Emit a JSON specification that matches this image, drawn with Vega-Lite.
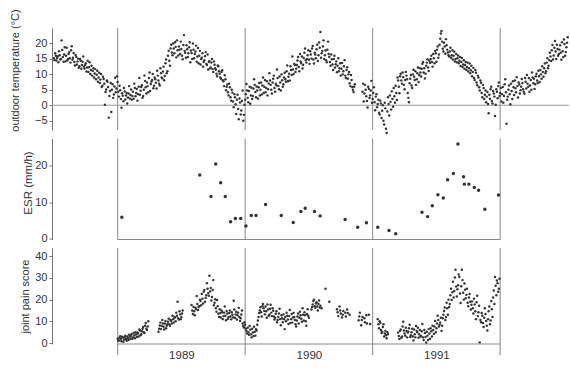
{
  "$schema": "https://vega.github.io/schema/vega-lite/v6.json",
  "background": "white",
  "padding": {"left": 8, "top": 8, "right": 0, "bottom": 0},
  "spacing": 2.5,
  "config": {
    "view": {"stroke": null},
    "axis": {"labelFont": "Liberation Sans", "labelFontSize": 11, "labelColor": "#333", "titleFont": "Liberation Sans", "titleFontSize": 11, "titleFontWeight": "normal", "titleColor": "#333", "domainColor": "#777", "tickColor": "#777", "grid": false, "tickSize": 3, "labelPadding": 2}
  },
  "datasets": {
    "yearlines": [{"t": 1989}, {"t": 1990}, {"t": 1991}, {"t": 1992}],
    "zeroline": [{"v": 0}],
    "esrbase": [{"t": 1989, "t2": 1992, "v": -0.27}],
    "painbase": [{"t": 1989, "t2": 1992, "v": -0.46}],
    "painlines": [{"t": 1989, "v": -5.6, "v2": 43.8}, {"t": 1990, "v": -5.6, "v2": 43.8}, {"t": 1991, "v": -5.6, "v2": 43.8}, {"t": 1992, "v": -5.6, "v2": 43.8}],
    "temp": [
      {"t":1988.50,"v":15.2},{"t":1988.51,"v":16.8},{"t":1988.52,"v":14.5},{"t":1988.53,"v":15.9},{"t":1988.54,"v":17.5},{"t":1988.55,"v":14.8},{"t":1988.56,"v":21.0},{"t":1988.57,"v":15.6},{"t":1988.58,"v":16.4},{"t":1988.59,"v":14.2},
      {"t":1988.60,"v":18.6},{"t":1988.61,"v":15.0},{"t":1988.62,"v":17.2},{"t":1988.63,"v":13.8},{"t":1988.64,"v":19.1},{"t":1988.65,"v":15.4},{"t":1988.66,"v":14.0},{"t":1988.67,"v":16.3},{"t":1988.68,"v":13.2},{"t":1988.69,"v":15.1},
      {"t":1988.70,"v":12.6},{"t":1988.71,"v":14.4},{"t":1988.72,"v":13.0},{"t":1988.73,"v":15.8},{"t":1988.74,"v":11.9},{"t":1988.75,"v":13.6},{"t":1988.76,"v":12.2},{"t":1988.77,"v":10.8},{"t":1988.78,"v":13.9},{"t":1988.79,"v":11.4},
      {"t":1988.80,"v":9.6},{"t":1988.81,"v":12.0},{"t":1988.82,"v":10.3},{"t":1988.83,"v":8.4},{"t":1988.84,"v":11.2},{"t":1988.85,"v":9.0},{"t":1988.86,"v":7.2},{"t":1988.87,"v":10.1},{"t":1988.88,"v":6.3},{"t":1988.89,"v":8.5},
      {"t":1988.90,"v":0.2},{"t":1988.91,"v":5.1},{"t":1988.92,"v":7.6},{"t":1988.93,"v":-4.0},{"t":1988.94,"v":4.6},{"t":1988.95,"v":-2.2},{"t":1988.96,"v":6.8},{"t":1988.97,"v":3.5},{"t":1988.98,"v":8.9},{"t":1988.99,"v":5.4},
      {"t":1989.00,"v":7.5},{"t":1989.01,"v":2.8},{"t":1989.02,"v":4.9},{"t":1989.03,"v":-0.8},{"t":1989.04,"v":3.1},{"t":1989.05,"v":5.6},{"t":1989.06,"v":1.9},{"t":1989.07,"v":4.0},{"t":1989.08,"v":2.5},{"t":1989.09,"v":6.2},
      {"t":1989.10,"v":3.3},{"t":1989.11,"v":1.8},{"t":1989.12,"v":4.4},{"t":1989.13,"v":7.0},{"t":1989.14,"v":2.9},{"t":1989.15,"v":5.3},{"t":1989.16,"v":3.6},{"t":1989.17,"v":8.8},{"t":1989.18,"v":4.7},{"t":1989.19,"v":6.5},
      {"t":1989.20,"v":3.0},{"t":1989.21,"v":9.6},{"t":1989.22,"v":5.8},{"t":1989.23,"v":7.4},{"t":1989.24,"v":4.2},{"t":1989.25,"v":10.6},{"t":1989.26,"v":6.9},{"t":1989.27,"v":8.2},{"t":1989.28,"v":5.5},{"t":1989.29,"v":9.0},
      {"t":1989.30,"v":7.3},{"t":1989.31,"v":11.2},{"t":1989.32,"v":8.0},{"t":1989.33,"v":6.4},{"t":1989.34,"v":10.4},{"t":1989.35,"v":8.7},{"t":1989.36,"v":12.5},{"t":1989.37,"v":9.5},{"t":1989.38,"v":14.8},{"t":1989.39,"v":11.0},
      {"t":1989.40,"v":17.6},{"t":1989.41,"v":12.8},{"t":1989.42,"v":19.6},{"t":1989.43,"v":16.2},{"t":1989.44,"v":18.4},{"t":1989.45,"v":20.4},{"t":1989.46,"v":15.5},{"t":1989.47,"v":17.8},{"t":1989.48,"v":19.0},{"t":1989.49,"v":16.6},
      {"t":1989.50,"v":18.2},{"t":1989.51,"v":14.9},{"t":1989.52,"v":22.7},{"t":1989.53,"v":17.0},{"t":1989.54,"v":19.4},{"t":1989.55,"v":15.6},{"t":1989.56,"v":18.8},{"t":1989.57,"v":13.9},{"t":1989.58,"v":16.9},{"t":1989.59,"v":20.0},
      {"t":1989.60,"v":15.2},{"t":1989.61,"v":17.4},{"t":1989.62,"v":14.1},{"t":1989.63,"v":18.5},{"t":1989.64,"v":16.0},{"t":1989.65,"v":13.2},{"t":1989.66,"v":15.4},{"t":1989.67,"v":12.5},{"t":1989.68,"v":14.6},{"t":1989.69,"v":17.2},
      {"t":1989.70,"v":13.0},{"t":1989.71,"v":11.6},{"t":1989.72,"v":14.3},{"t":1989.73,"v":12.2},{"t":1989.74,"v":15.0},{"t":1989.75,"v":10.8},{"t":1989.76,"v":13.1},{"t":1989.77,"v":11.5},{"t":1989.78,"v":9.4},{"t":1989.79,"v":12.6},
      {"t":1989.80,"v":10.2},{"t":1989.81,"v":8.6},{"t":1989.82,"v":11.3},{"t":1989.83,"v":7.8},{"t":1989.84,"v":9.7},{"t":1989.85,"v":4.9},{"t":1989.86,"v":6.7},{"t":1989.87,"v":3.2},{"t":1989.88,"v":5.8},{"t":1989.89,"v":1.5},
      {"t":1989.90,"v":4.1},{"t":1989.91,"v":-0.6},{"t":1989.92,"v":2.6},{"t":1989.93,"v":-2.8},{"t":1989.94,"v":3.4},{"t":1989.95,"v":-4.5},{"t":1989.96,"v":0.9},{"t":1989.97,"v":-1.7},{"t":1989.98,"v":4.8},{"t":1989.99,"v":-3.1},
      {"t":1990.00,"v":1.8},{"t":1990.01,"v":6.9},{"t":1990.02,"v":2.4},{"t":1990.03,"v":4.6},{"t":1990.04,"v":0.5},{"t":1990.05,"v":5.7},{"t":1990.06,"v":3.0},{"t":1990.07,"v":8.4},{"t":1990.08,"v":4.3},{"t":1990.09,"v":6.1},
      {"t":1990.10,"v":2.2},{"t":1990.11,"v":7.2},{"t":1990.12,"v":5.0},{"t":1990.13,"v":3.5},{"t":1990.14,"v":9.0},{"t":1990.15,"v":6.0},{"t":1990.16,"v":4.2},{"t":1990.17,"v":7.8},{"t":1990.18,"v":5.2},{"t":1990.19,"v":10.4},
      {"t":1990.20,"v":6.6},{"t":1990.21,"v":3.8},{"t":1990.22,"v":8.6},{"t":1990.23,"v":5.6},{"t":1990.24,"v":7.0},{"t":1990.25,"v":11.6},{"t":1990.26,"v":6.2},{"t":1990.27,"v":9.3},{"t":1990.28,"v":4.8},{"t":1990.29,"v":8.1},
      {"t":1990.30,"v":6.8},{"t":1990.31,"v":10.5},{"t":1990.32,"v":7.6},{"t":1990.33,"v":12.9},{"t":1990.34,"v":9.2},{"t":1990.35,"v":8.0},{"t":1990.36,"v":11.4},{"t":1990.37,"v":15.8},{"t":1990.38,"v":10.1},{"t":1990.39,"v":13.0},
      {"t":1990.40,"v":11.8},{"t":1990.41,"v":14.5},{"t":1990.42,"v":12.4},{"t":1990.43,"v":16.6},{"t":1990.44,"v":13.6},{"t":1990.45,"v":11.9},{"t":1990.46,"v":15.3},{"t":1990.47,"v":18.4},{"t":1990.48,"v":13.8},{"t":1990.49,"v":16.2},
      {"t":1990.50,"v":14.7},{"t":1990.51,"v":17.5},{"t":1990.52,"v":15.1},{"t":1990.53,"v":19.2},{"t":1990.54,"v":13.5},{"t":1990.55,"v":16.4},{"t":1990.56,"v":18.1},{"t":1990.57,"v":14.3},{"t":1990.58,"v":20.3},{"t":1990.59,"v":23.7},
      {"t":1990.60,"v":16.8},{"t":1990.61,"v":19.0},{"t":1990.62,"v":15.0},{"t":1990.63,"v":17.7},{"t":1990.64,"v":13.9},{"t":1990.65,"v":20.6},{"t":1990.66,"v":15.6},{"t":1990.67,"v":12.8},{"t":1990.68,"v":14.9},{"t":1990.69,"v":11.4},
      {"t":1990.70,"v":16.0},{"t":1990.71,"v":13.3},{"t":1990.72,"v":10.7},{"t":1990.73,"v":15.2},{"t":1990.74,"v":12.0},{"t":1990.75,"v":9.6},{"t":1990.76,"v":13.7},{"t":1990.77,"v":11.0},{"t":1990.78,"v":14.6},{"t":1990.79,"v":8.8},
      {"t":1990.80,"v":12.3},{"t":1990.81,"v":10.0},{"t":1990.82,"v":7.1},{"t":1990.83,"v":9.8},{"t":1990.84,"v":5.9},{"t":1990.85,"v":4.3},{"t":1990.86,"v":6.8},
      {"t":1990.92,"v":4.4},{"t":1990.93,"v":1.2},{"t":1990.94,"v":6.6},{"t":1990.95,"v":2.9},{"t":1990.96,"v":-0.7},{"t":1990.97,"v":5.3},{"t":1990.98,"v":3.2},{"t":1990.99,"v":7.9},
      {"t":1991.00,"v":2.0},{"t":1991.01,"v":5.8},{"t":1991.02,"v":-1.6},{"t":1991.03,"v":3.6},{"t":1991.04,"v":0.4},{"t":1991.05,"v":-2.4},{"t":1991.06,"v":1.5},{"t":1991.07,"v":-4.1},{"t":1991.08,"v":0.0},{"t":1991.09,"v":-6.2},
      {"t":1991.10,"v":-1.0},{"t":1991.11,"v":-9.0},{"t":1991.12,"v":2.6},{"t":1991.13,"v":-3.3},{"t":1991.14,"v":1.1},{"t":1991.15,"v":4.5},{"t":1991.16,"v":-0.5},{"t":1991.17,"v":2.9},{"t":1991.18,"v":6.3},{"t":1991.19,"v":1.7},
      {"t":1991.20,"v":8.0},{"t":1991.21,"v":3.9},{"t":1991.22,"v":10.2},{"t":1991.23,"v":7.0},{"t":1991.24,"v":9.1},{"t":1991.25,"v":5.2},{"t":1991.26,"v":10.8},{"t":1991.27,"v":8.4},{"t":1991.28,"v":2.4},{"t":1991.29,"v":7.1},
      {"t":1991.30,"v":9.8},{"t":1991.31,"v":5.6},{"t":1991.32,"v":11.5},{"t":1991.33,"v":8.2},{"t":1991.34,"v":6.6},{"t":1991.35,"v":10.4},{"t":1991.36,"v":7.5},{"t":1991.37,"v":12.0},{"t":1991.38,"v":9.3},{"t":1991.39,"v":13.4},
      {"t":1991.40,"v":10.6},{"t":1991.41,"v":8.7},{"t":1991.42,"v":12.8},{"t":1991.43,"v":14.9},{"t":1991.44,"v":11.1},{"t":1991.45,"v":13.7},{"t":1991.46,"v":16.0},{"t":1991.47,"v":12.5},{"t":1991.48,"v":15.2},{"t":1991.49,"v":17.6},
      {"t":1991.50,"v":14.1},{"t":1991.51,"v":19.0},{"t":1991.52,"v":16.4},{"t":1991.53,"v":21.5},{"t":1991.54,"v":24.0},{"t":1991.55,"v":18.3},{"t":1991.56,"v":20.2},{"t":1991.57,"v":16.7},{"t":1991.58,"v":19.4},{"t":1991.59,"v":17.1},
      {"t":1991.60,"v":15.8},{"t":1991.61,"v":18.6},{"t":1991.62,"v":16.2},{"t":1991.63,"v":14.8},{"t":1991.64,"v":17.3},{"t":1991.65,"v":15.0},{"t":1991.66,"v":13.9},{"t":1991.67,"v":16.1},{"t":1991.68,"v":14.4},{"t":1991.69,"v":12.7},
      {"t":1991.70,"v":15.3},{"t":1991.71,"v":13.2},{"t":1991.72,"v":11.8},{"t":1991.73,"v":14.0},{"t":1991.74,"v":12.4},{"t":1991.75,"v":10.9},{"t":1991.76,"v":13.5},{"t":1991.77,"v":11.3},{"t":1991.78,"v":9.4},{"t":1991.79,"v":12.1},
      {"t":1991.80,"v":8.2},{"t":1991.81,"v":10.5},{"t":1991.82,"v":6.5},{"t":1991.83,"v":9.0},{"t":1991.84,"v":4.8},{"t":1991.85,"v":7.3},{"t":1991.86,"v":2.6},{"t":1991.87,"v":5.6},{"t":1991.88,"v":3.4},{"t":1991.89,"v":1.0},
      {"t":1991.90,"v":4.3},{"t":1991.91,"v":-2.6},{"t":1991.92,"v":2.1},{"t":1991.93,"v":6.0},{"t":1991.94,"v":0.6},{"t":1991.95,"v":3.8},{"t":1991.96,"v":-3.5},{"t":1991.97,"v":5.2},{"t":1991.98,"v":2.3},{"t":1991.99,"v":7.4},
      {"t":1992.00,"v":4.0},{"t":1992.01,"v":1.2},{"t":1992.02,"v":5.9},{"t":1992.03,"v":3.0},{"t":1992.04,"v":8.4},{"t":1992.05,"v":-6.0},{"t":1992.06,"v":2.8},{"t":1992.07,"v":6.4},{"t":1992.08,"v":0.3},{"t":1992.09,"v":4.6},
      {"t":1992.10,"v":7.8},{"t":1992.11,"v":3.3},{"t":1992.12,"v":5.5},{"t":1992.13,"v":9.1},{"t":1992.14,"v":2.5},{"t":1992.15,"v":6.7},{"t":1992.16,"v":4.9},{"t":1992.17,"v":8.5},{"t":1992.18,"v":5.2},{"t":1992.19,"v":3.7},
      {"t":1992.20,"v":7.6},{"t":1992.21,"v":9.8},{"t":1992.22,"v":6.0},{"t":1992.23,"v":4.4},{"t":1992.24,"v":8.2},{"t":1992.25,"v":10.6},{"t":1992.26,"v":7.1},{"t":1992.27,"v":5.3},{"t":1992.28,"v":9.4},{"t":1992.29,"v":8.0},
      {"t":1992.30,"v":11.2},{"t":1992.31,"v":7.5},{"t":1992.32,"v":10.0},{"t":1992.33,"v":12.6},{"t":1992.34,"v":9.2},{"t":1992.35,"v":13.5},{"t":1992.36,"v":11.0},{"t":1992.37,"v":15.2},{"t":1992.38,"v":12.8},{"t":1992.39,"v":17.0},
      {"t":1992.40,"v":14.3},{"t":1992.41,"v":19.5},{"t":1992.42,"v":16.1},{"t":1992.43,"v":20.8},{"t":1992.44,"v":15.0},{"t":1992.45,"v":18.2},{"t":1992.46,"v":16.6},{"t":1992.47,"v":19.4},{"t":1992.48,"v":14.7},{"t":1992.49,"v":17.5},
      {"t":1992.50,"v":21.3},{"t":1992.51,"v":16.0},{"t":1992.52,"v":18.8},{"t":1992.53,"v":22.0},
      {"t":1988.505,"v":14.6},{"t":1988.515,"v":16.0},{"t":1988.525,"v":15.3},{"t":1988.535,"v":13.9},{"t":1988.545,"v":16.2},{"t":1988.555,"v":15.0},{"t":1988.565,"v":17.9},{"t":1988.575,"v":14.1},{"t":1988.585,"v":18.8},{"t":1988.595,"v":16.0},
      {"t":1988.605,"v":14.5},{"t":1988.615,"v":16.6},{"t":1988.625,"v":15.2},{"t":1988.635,"v":17.8},{"t":1988.645,"v":14.7},{"t":1988.655,"v":16.9},{"t":1988.665,"v":12.9},{"t":1988.675,"v":15.7},{"t":1988.685,"v":14.2},{"t":1988.695,"v":12.1},
      {"t":1988.705,"v":15.0},{"t":1988.715,"v":11.8},{"t":1988.725,"v":14.1},{"t":1988.735,"v":12.5},{"t":1988.745,"v":13.0},{"t":1988.755,"v":10.9},{"t":1988.765,"v":14.4},{"t":1988.775,"v":12.3},{"t":1988.785,"v":10.1},{"t":1988.795,"v":12.8},
      {"t":1988.805,"v":11.1},{"t":1988.815,"v":9.0},{"t":1988.825,"v":11.7},{"t":1988.835,"v":9.9},{"t":1988.845,"v":7.6},{"t":1988.855,"v":10.5},{"t":1988.865,"v":8.3},{"t":1988.875,"v":5.9},{"t":1988.885,"v":9.2},{"t":1988.895,"v":7.0},
      {"t":1988.905,"v":4.3},{"t":1988.915,"v":8.0},{"t":1988.925,"v":5.9},{"t":1988.935,"v":3.0},{"t":1988.945,"v":7.2},{"t":1988.955,"v":5.0},{"t":1988.965,"v":2.4},{"t":1988.975,"v":6.1},{"t":1988.985,"v":4.2},{"t":1988.995,"v":9.4},
      {"t":1989.005,"v":4.4},{"t":1989.015,"v":6.3},{"t":1989.025,"v":2.0},{"t":1989.035,"v":3.9},{"t":1989.045,"v":1.3},{"t":1989.055,"v":4.5},{"t":1989.065,"v":3.2},{"t":1989.075,"v":0.6},{"t":1989.085,"v":3.8},{"t":1989.095,"v":2.2},
      {"t":1989.105,"v":5.1},{"t":1989.115,"v":3.0},{"t":1989.125,"v":2.1},{"t":1989.135,"v":5.6},{"t":1989.145,"v":4.0},{"t":1989.155,"v":1.5},{"t":1989.165,"v":6.0},{"t":1989.175,"v":3.4},{"t":1989.185,"v":5.9},{"t":1989.195,"v":2.4},
      {"t":1989.205,"v":5.0},{"t":1989.215,"v":7.9},{"t":1989.225,"v":3.8},{"t":1989.235,"v":6.2},{"t":1989.245,"v":8.8},{"t":1989.255,"v":4.6},{"t":1989.265,"v":7.7},{"t":1989.275,"v":10.1},{"t":1989.285,"v":6.3},{"t":1989.295,"v":8.4},
      {"t":1989.305,"v":5.4},{"t":1989.315,"v":9.6},{"t":1989.325,"v":7.0},{"t":1989.335,"v":12.0},{"t":1989.345,"v":9.0},{"t":1989.355,"v":10.9},{"t":1989.365,"v":8.1},{"t":1989.375,"v":13.6},{"t":1989.385,"v":10.4},{"t":1989.395,"v":16.0},
      {"t":1989.405,"v":14.4},{"t":1989.415,"v":18.4},{"t":1989.425,"v":17.1},{"t":1989.435,"v":20.0},{"t":1989.445,"v":16.8},{"t":1989.455,"v":18.9},{"t":1989.465,"v":21.0},{"t":1989.475,"v":16.1},{"t":1989.485,"v":18.0},{"t":1989.495,"v":20.6},
      {"t":1989.505,"v":16.0},{"t":1989.515,"v":19.5},{"t":1989.525,"v":17.6},{"t":1989.535,"v":15.4},{"t":1989.545,"v":18.1},{"t":1989.555,"v":16.8},{"t":1989.565,"v":20.4},{"t":1989.575,"v":17.7},{"t":1989.585,"v":15.0},{"t":1989.595,"v":18.0},
      {"t":1989.605,"v":16.6},{"t":1989.615,"v":19.3},{"t":1989.625,"v":15.8},{"t":1989.635,"v":13.6},{"t":1989.645,"v":17.6},{"t":1989.655,"v":15.0},{"t":1989.665,"v":16.8},{"t":1989.675,"v":14.0},{"t":1989.685,"v":15.9},{"t":1989.695,"v":13.4},
      {"t":1989.705,"v":16.4},{"t":1989.715,"v":14.0},{"t":1989.725,"v":12.0},{"t":1989.735,"v":13.8},{"t":1989.745,"v":11.7},{"t":1989.755,"v":14.2},{"t":1989.765,"v":12.0},{"t":1989.775,"v":10.2},{"t":1989.785,"v":12.9},{"t":1989.795,"v":11.0},
      {"t":1989.805,"v":9.0},{"t":1989.815,"v":10.8},{"t":1989.825,"v":8.1},{"t":1989.835,"v":6.2},{"t":1989.845,"v":8.4},{"t":1989.855,"v":6.0},{"t":1989.865,"v":4.2},{"t":1989.875,"v":7.0},{"t":1989.885,"v":2.6},{"t":1989.895,"v":5.0},
      {"t":1989.905,"v":1.2},{"t":1989.915,"v":3.6},{"t":1989.925,"v":0.3},{"t":1989.935,"v":1.8},{"t":1989.945,"v":-1.2},{"t":1989.955,"v":2.2},{"t":1989.965,"v":-3.0},{"t":1989.975,"v":1.4},{"t":1989.985,"v":-5.0},{"t":1989.995,"v":0.2},
      {"t":1990.005,"v":3.6},{"t":1990.015,"v":4.8},{"t":1990.025,"v":1.0},{"t":1990.035,"v":6.0},{"t":1990.045,"v":3.2},{"t":1990.055,"v":2.0},{"t":1990.065,"v":5.4},{"t":1990.075,"v":6.6},{"t":1990.085,"v":2.6},{"t":1990.095,"v":4.8},
      {"t":1990.105,"v":5.8},{"t":1990.115,"v":3.2},{"t":1990.125,"v":7.4},{"t":1990.135,"v":6.4},{"t":1990.145,"v":4.0},{"t":1990.155,"v":8.2},{"t":1990.165,"v":5.6},{"t":1990.175,"v":3.2},{"t":1990.185,"v":7.0},{"t":1990.195,"v":8.0},
      {"t":1990.205,"v":5.0},{"t":1990.215,"v":7.4},{"t":1990.225,"v":9.6},{"t":1990.235,"v":4.4},{"t":1990.245,"v":6.5},{"t":1990.255,"v":8.8},{"t":1990.265,"v":5.2},{"t":1990.275,"v":7.4},{"t":1990.285,"v":10.0},{"t":1990.295,"v":6.0},
      {"t":1990.305,"v":9.0},{"t":1990.315,"v":8.4},{"t":1990.325,"v":11.0},{"t":1990.335,"v":7.8},{"t":1990.345,"v":10.2},{"t":1990.355,"v":12.6},{"t":1990.365,"v":9.8},{"t":1990.375,"v":11.6},{"t":1990.385,"v":13.4},{"t":1990.395,"v":10.8},
      {"t":1990.405,"v":13.0},{"t":1990.415,"v":15.6},{"t":1990.425,"v":11.0},{"t":1990.435,"v":14.2},{"t":1990.445,"v":15.8},{"t":1990.455,"v":13.0},{"t":1990.465,"v":17.0},{"t":1990.475,"v":14.6},{"t":1990.485,"v":15.0},{"t":1990.495,"v":17.8},
      {"t":1990.505,"v":13.4},{"t":1990.515,"v":16.4},{"t":1990.525,"v":18.4},{"t":1990.535,"v":14.8},{"t":1990.545,"v":17.0},{"t":1990.555,"v":15.2},{"t":1990.565,"v":19.6},{"t":1990.575,"v":16.2},{"t":1990.585,"v":18.6},{"t":1990.595,"v":15.4},
      {"t":1990.605,"v":17.6},{"t":1990.615,"v":21.0},{"t":1990.625,"v":16.2},{"t":1990.635,"v":14.6},{"t":1990.645,"v":18.0},{"t":1990.655,"v":16.6},{"t":1990.665,"v":14.0},{"t":1990.675,"v":16.4},{"t":1990.685,"v":13.2},{"t":1990.695,"v":15.0},
      {"t":1990.705,"v":12.2},{"t":1990.715,"v":14.2},{"t":1990.725,"v":12.8},{"t":1990.735,"v":11.0},{"t":1990.745,"v":13.6},{"t":1990.755,"v":11.8},{"t":1990.765,"v":10.0},{"t":1990.775,"v":12.6},{"t":1990.785,"v":9.6},{"t":1990.795,"v":11.4},
      {"t":1990.805,"v":8.6},{"t":1990.815,"v":10.8},{"t":1990.825,"v":6.2},{"t":1990.835,"v":8.2},{"t":1990.845,"v":5.0},{"t":1990.855,"v":6.0},
      {"t":1990.925,"v":7.0},{"t":1990.935,"v":3.8},{"t":1990.945,"v":5.0},{"t":1990.955,"v":1.4},{"t":1990.965,"v":6.0},{"t":1990.975,"v":2.4},{"t":1990.985,"v":4.8},{"t":1990.995,"v":0.8},
      {"t":1991.005,"v":4.0},{"t":1991.015,"v":1.0},{"t":1991.025,"v":2.8},{"t":1991.035,"v":-0.6},{"t":1991.045,"v":1.8},{"t":1991.055,"v":-3.0},{"t":1991.065,"v":0.6},{"t":1991.075,"v":-1.8},{"t":1991.085,"v":-5.0},{"t":1991.095,"v":0.8},
      {"t":1991.105,"v":-7.6},{"t":1991.115,"v":-2.0},{"t":1991.125,"v":0.4},{"t":1991.135,"v":3.2},{"t":1991.145,"v":-1.4},{"t":1991.155,"v":2.0},{"t":1991.165,"v":5.6},{"t":1991.175,"v":0.8},{"t":1991.185,"v":4.0},{"t":1991.195,"v":9.0},
      {"t":1991.205,"v":6.0},{"t":1991.215,"v":9.4},{"t":1991.225,"v":8.0},{"t":1991.235,"v":10.6},{"t":1991.245,"v":6.6},{"t":1991.255,"v":8.2},{"t":1991.265,"v":9.6},{"t":1991.275,"v":4.0},{"t":1991.285,"v":1.0},{"t":1991.295,"v":8.6},
      {"t":1991.305,"v":6.4},{"t":1991.315,"v":10.0},{"t":1991.325,"v":9.2},{"t":1991.335,"v":11.0},{"t":1991.345,"v":8.4},{"t":1991.355,"v":12.2},{"t":1991.365,"v":9.8},{"t":1991.375,"v":10.6},{"t":1991.385,"v":11.8},{"t":1991.395,"v":14.0},
      {"t":1991.405,"v":12.0},{"t":1991.415,"v":10.2},{"t":1991.425,"v":13.8},{"t":1991.435,"v":12.2},{"t":1991.445,"v":14.4},{"t":1991.455,"v":15.0},{"t":1991.465,"v":14.0},{"t":1991.475,"v":16.6},{"t":1991.485,"v":13.6},{"t":1991.495,"v":16.8},
      {"t":1991.505,"v":18.0},{"t":1991.515,"v":15.4},{"t":1991.525,"v":19.6},{"t":1991.535,"v":23.2},{"t":1991.545,"v":20.6},{"t":1991.555,"v":17.4},{"t":1991.565,"v":19.0},{"t":1991.575,"v":21.4},{"t":1991.585,"v":18.0},{"t":1991.595,"v":16.2},
      {"t":1991.605,"v":17.4},{"t":1991.615,"v":15.4},{"t":1991.625,"v":17.8},{"t":1991.635,"v":16.0},{"t":1991.645,"v":14.2},{"t":1991.655,"v":16.6},{"t":1991.665,"v":15.2},{"t":1991.675,"v":13.6},{"t":1991.685,"v":15.6},{"t":1991.695,"v":14.0},
      {"t":1991.705,"v":12.4},{"t":1991.715,"v":14.6},{"t":1991.725,"v":13.0},{"t":1991.735,"v":11.4},{"t":1991.745,"v":13.8},{"t":1991.755,"v":12.0},{"t":1991.765,"v":10.4},{"t":1991.775,"v":12.8},{"t":1991.785,"v":10.8},{"t":1991.795,"v":8.8},
      {"t":1991.805,"v":11.4},{"t":1991.815,"v":7.4},{"t":1991.825,"v":9.6},{"t":1991.835,"v":5.8},{"t":1991.845,"v":8.0},{"t":1991.855,"v":4.0},{"t":1991.865,"v":6.6},{"t":1991.875,"v":2.0},{"t":1991.885,"v":4.8},{"t":1991.895,"v":2.8},
      {"t":1991.905,"v":0.4},{"t":1991.915,"v":3.4},{"t":1991.925,"v":5.2},{"t":1991.935,"v":1.4},{"t":1991.945,"v":4.6},{"t":1991.955,"v":2.8},{"t":1991.965,"v":0.2},{"t":1991.975,"v":4.4},{"t":1991.985,"v":6.2},{"t":1991.995,"v":3.0},
      {"t":1992.005,"v":5.6},{"t":1992.015,"v":3.6},{"t":1992.025,"v":0.8},{"t":1992.035,"v":6.8},{"t":1992.045,"v":4.2},{"t":1992.055,"v":1.8},{"t":1992.065,"v":5.0},{"t":1992.075,"v":3.6},{"t":1992.085,"v":7.0},{"t":1992.095,"v":2.0},
      {"t":1992.105,"v":5.8},{"t":1992.115,"v":8.0},{"t":1992.125,"v":4.2},{"t":1992.135,"v":6.2},{"t":1992.145,"v":7.4},{"t":1992.155,"v":3.8},{"t":1992.165,"v":6.0},{"t":1992.175,"v":7.2},{"t":1992.185,"v":4.4},{"t":1992.195,"v":8.8},
      {"t":1992.205,"v":5.4},{"t":1992.215,"v":7.0},{"t":1992.225,"v":8.8},{"t":1992.235,"v":6.4},{"t":1992.245,"v":5.0},{"t":1992.255,"v":9.0},{"t":1992.265,"v":8.6},{"t":1992.275,"v":6.8},{"t":1992.285,"v":10.2},{"t":1992.295,"v":7.2},
      {"t":1992.305,"v":9.4},{"t":1992.315,"v":11.4},{"t":1992.325,"v":8.6},{"t":1992.335,"v":10.8},{"t":1992.345,"v":12.0},{"t":1992.355,"v":10.4},{"t":1992.365,"v":13.8},{"t":1992.375,"v":12.0},{"t":1992.385,"v":14.6},{"t":1992.395,"v":15.8},
      {"t":1992.405,"v":17.8},{"t":1992.415,"v":14.8},{"t":1992.425,"v":18.6},{"t":1992.435,"v":17.4},{"t":1992.445,"v":19.6},{"t":1992.455,"v":16.0},{"t":1992.465,"v":18.0},{"t":1992.475,"v":17.0},{"t":1992.485,"v":20.4},{"t":1992.495,"v":15.6},
      {"t":1992.505,"v":19.8},{"t":1992.515,"v":17.2},{"t":1992.525,"v":20.2}
    ],
    "esr": [
      {"t":1989.033,"v":5.8},{"t":1989.644,"v":17.4},{"t":1989.732,"v":11.5},{"t":1989.769,"v":20.4},{"t":1989.808,"v":15.3},{"t":1989.844,"v":11.5},{"t":1989.886,"v":4.6},{"t":1989.923,"v":5.5},{"t":1989.965,"v":5.5},
      {"t":1990.006,"v":3.4},{"t":1990.048,"v":6.3},{"t":1990.085,"v":6.3},{"t":1990.16,"v":9.3},{"t":1990.283,"v":6.3},{"t":1990.377,"v":4.4},{"t":1990.437,"v":7.4},{"t":1990.471,"v":8.3},{"t":1990.544,"v":7.4},{"t":1990.588,"v":6.2},{"t":1990.784,"v":5.2},{"t":1990.883,"v":3.1},{"t":1990.951,"v":4.3},
      {"t":1991.04,"v":3.1},{"t":1991.128,"v":2.2},{"t":1991.181,"v":1.3},{"t":1991.387,"v":7.2},{"t":1991.431,"v":6.0},{"t":1991.468,"v":9.0},{"t":1991.512,"v":12.0},{"t":1991.554,"v":11.1},{"t":1991.588,"v":16.1},{"t":1991.633,"v":17.8},{"t":1991.669,"v":25.9},{"t":1991.713,"v":16.9},{"t":1991.719,"v":14.9},{"t":1991.755,"v":14.9},{"t":1991.797,"v":14.0},{"t":1991.831,"v":13.2},{"t":1991.88,"v":8.0},{"t":1991.987,"v":11.9}
    ],
    "pain": [
      {"t":1989.00,"v":2.0},{"t":1989.01,"v":1.2},{"t":1989.02,"v":3.1},{"t":1989.03,"v":0.8},{"t":1989.04,"v":2.5},{"t":1989.05,"v":1.6},{"t":1989.06,"v":3.4},{"t":1989.07,"v":1.0},{"t":1989.08,"v":2.2},{"t":1989.09,"v":3.8},
      {"t":1989.10,"v":1.9},{"t":1989.11,"v":4.2},{"t":1989.12,"v":2.6},{"t":1989.13,"v":3.5},{"t":1989.14,"v":5.0},{"t":1989.15,"v":2.8},{"t":1989.16,"v":4.4},{"t":1989.17,"v":6.2},{"t":1989.18,"v":3.6},{"t":1989.19,"v":5.4},
      {"t":1989.20,"v":7.4},{"t":1989.21,"v":4.6},{"t":1989.22,"v":9.2},{"t":1989.23,"v":6.0},{"t":1989.24,"v":10.0},
      {"t":1989.32,"v":5.2},{"t":1989.33,"v":8.1},{"t":1989.34,"v":6.4},{"t":1989.35,"v":10.6},{"t":1989.36,"v":7.5},{"t":1989.37,"v":9.0},{"t":1989.38,"v":6.8},{"t":1989.39,"v":8.6},
      {"t":1989.40,"v":11.2},{"t":1989.41,"v":7.9},{"t":1989.42,"v":10.1},{"t":1989.43,"v":12.6},{"t":1989.44,"v":9.4},{"t":1989.45,"v":11.8},{"t":1989.46,"v":14.0},{"t":1989.47,"v":19.0},{"t":1989.48,"v":10.8},{"t":1989.49,"v":13.2},
      {"t":1989.50,"v":12.0},{"t":1989.51,"v":15.0},
      {"t":1989.58,"v":17.5},{"t":1989.59,"v":13.4},{"t":1989.60,"v":14.6},{"t":1989.61,"v":16.3},{"t":1989.62,"v":21.7},{"t":1989.63,"v":15.2},{"t":1989.64,"v":17.0},{"t":1989.65,"v":19.4},{"t":1989.66,"v":22.6},{"t":1989.67,"v":18.2},{"t":1989.68,"v":24.5},{"t":1989.69,"v":20.8},
      {"t":1989.70,"v":27.6},{"t":1989.71,"v":23.0},{"t":1989.72,"v":31.0},{"t":1989.73,"v":25.4},{"t":1989.74,"v":21.2},{"t":1989.75,"v":29.0},{"t":1989.76,"v":18.6},{"t":1989.77,"v":16.0},{"t":1989.78,"v":19.8},{"t":1989.79,"v":13.5},
      {"t":1989.80,"v":15.6},{"t":1989.81,"v":11.8},{"t":1989.82,"v":14.2},{"t":1989.83,"v":12.4},{"t":1989.84,"v":16.8},{"t":1989.85,"v":10.5},{"t":1989.86,"v":13.6},{"t":1989.87,"v":12.0},{"t":1989.88,"v":15.0},{"t":1989.89,"v":10.9},
      {"t":1989.90,"v":13.0},{"t":1989.91,"v":19.5},{"t":1989.92,"v":11.6},{"t":1989.93,"v":14.4},{"t":1989.94,"v":12.8},{"t":1989.95,"v":16.2},{"t":1989.96,"v":10.2},{"t":1989.97,"v":13.1},{"t":1989.98,"v":9.0},{"t":1989.99,"v":7.2},
      {"t":1990.00,"v":8.4},{"t":1990.01,"v":5.6},{"t":1990.02,"v":7.0},{"t":1990.03,"v":3.8},{"t":1990.04,"v":6.1},{"t":1990.05,"v":2.6},{"t":1990.06,"v":4.8},{"t":1990.07,"v":7.5},{"t":1990.08,"v":3.4},{"t":1990.09,"v":5.8},
      {"t":1990.10,"v":10.4},{"t":1990.11,"v":13.8},{"t":1990.12,"v":16.5},{"t":1990.13,"v":12.2},{"t":1990.14,"v":18.0},{"t":1990.15,"v":14.7},{"t":1990.16,"v":16.8},{"t":1990.17,"v":11.6},{"t":1990.18,"v":15.4},{"t":1990.19,"v":13.0},
      {"t":1990.20,"v":17.6},{"t":1990.21,"v":12.4},{"t":1990.22,"v":14.9},{"t":1990.23,"v":10.8},{"t":1990.24,"v":13.5},{"t":1990.25,"v":9.6},{"t":1990.26,"v":12.0},{"t":1990.27,"v":15.8},{"t":1990.28,"v":8.2},{"t":1990.29,"v":11.4},
      {"t":1990.30,"v":13.2},{"t":1990.31,"v":6.4},{"t":1990.32,"v":10.0},{"t":1990.33,"v":12.6},{"t":1990.34,"v":8.8},{"t":1990.35,"v":15.2},{"t":1990.36,"v":11.0},{"t":1990.37,"v":9.4},{"t":1990.38,"v":13.9},{"t":1990.39,"v":10.6},
      {"t":1990.40,"v":7.6},{"t":1990.41,"v":12.2},{"t":1990.42,"v":9.0},{"t":1990.43,"v":14.4},{"t":1990.44,"v":11.2},{"t":1990.45,"v":16.0},{"t":1990.46,"v":10.4},{"t":1990.47,"v":12.8},{"t":1990.48,"v":8.0},{"t":1990.49,"v":15.6},
      {"t":1990.50,"v":11.6},{"t":1990.52,"v":15.4},{"t":1990.53,"v":17.8},{"t":1990.54,"v":20.0},{"t":1990.55,"v":16.2},{"t":1990.56,"v":18.8},{"t":1990.57,"v":15.0},{"t":1990.58,"v":19.6},{"t":1990.59,"v":17.2},
      {"t":1990.60,"v":16.0},{"t":1990.63,"v":25.0},{"t":1990.66,"v":19.0},{"t":1990.72,"v":15.6},{"t":1990.73,"v":12.4},{"t":1990.74,"v":16.8},{"t":1990.75,"v":13.6},{"t":1990.76,"v":11.8},{"t":1990.77,"v":14.8},{"t":1990.79,"v":12.2},
      {"t":1990.80,"v":15.4},{"t":1990.82,"v":13.0},{"t":1990.89,"v":10.5},{"t":1990.90,"v":14.0},{"t":1990.91,"v":8.2},{"t":1990.92,"v":12.0},{"t":1990.94,"v":9.6},{"t":1990.95,"v":12.8},{"t":1990.97,"v":13.0},{"t":1990.98,"v":8.8},
      {"t":1991.04,"v":11.0},{"t":1991.05,"v":6.8},{"t":1991.06,"v":9.2},{"t":1991.07,"v":4.6},{"t":1991.08,"v":7.4},{"t":1991.09,"v":3.0},{"t":1991.10,"v":5.6},{"t":1991.11,"v":2.2},{"t":1991.12,"v":4.0},
      {"t":1991.20,"v":4.8},{"t":1991.21,"v":1.8},{"t":1991.22,"v":6.2},{"t":1991.23,"v":3.0},{"t":1991.24,"v":9.8},{"t":1991.25,"v":4.4},{"t":1991.26,"v":7.0},{"t":1991.27,"v":2.6},{"t":1991.28,"v":5.2},{"t":1991.29,"v":8.4},
      {"t":1991.30,"v":3.6},{"t":1991.31,"v":6.6},{"t":1991.32,"v":1.2},{"t":1991.33,"v":4.0},{"t":1991.34,"v":7.8},{"t":1991.35,"v":5.0},{"t":1991.36,"v":2.4},{"t":1991.37,"v":6.0},{"t":1991.38,"v":3.2},{"t":1991.39,"v":8.8},
      {"t":1991.40,"v":1.4},{"t":1991.41,"v":4.6},{"t":1991.42,"v":0.2},{"t":1991.43,"v":3.4},{"t":1991.44,"v":6.4},{"t":1991.45,"v":2.0},{"t":1991.46,"v":5.4},{"t":1991.47,"v":8.0},{"t":1991.48,"v":4.2},{"t":1991.49,"v":10.2},
      {"t":1991.50,"v":6.8},{"t":1991.51,"v":12.6},{"t":1991.52,"v":7.6},{"t":1991.53,"v":9.4},{"t":1991.54,"v":5.6},{"t":1991.55,"v":11.4},{"t":1991.56,"v":14.8},{"t":1991.57,"v":10.6},{"t":1991.58,"v":18.6},{"t":1991.59,"v":13.0},
      {"t":1991.60,"v":16.6},{"t":1991.61,"v":22.0},{"t":1991.62,"v":19.8},{"t":1991.63,"v":28.2},{"t":1991.64,"v":24.0},{"t":1991.65,"v":33.8},{"t":1991.66,"v":21.4},{"t":1991.67,"v":26.6},{"t":1991.68,"v":30.4},{"t":1991.69,"v":18.4},
      {"t":1991.70,"v":33.8},{"t":1991.71,"v":23.2},{"t":1991.72,"v":27.4},{"t":1991.73,"v":20.6},{"t":1991.74,"v":25.0},{"t":1991.75,"v":17.0},{"t":1991.76,"v":22.6},{"t":1991.77,"v":15.4},{"t":1991.78,"v":19.2},{"t":1991.79,"v":13.6},
      {"t":1991.80,"v":17.8},{"t":1991.81,"v":11.0},{"t":1991.82,"v":21.8},{"t":1991.83,"v":14.2},{"t":1991.84,"v":0.3},{"t":1991.85,"v":9.6},{"t":1991.86,"v":12.6},{"t":1991.87,"v":7.4},{"t":1991.88,"v":16.0},{"t":1991.89,"v":10.2},
      {"t":1991.90,"v":5.8},{"t":1991.91,"v":14.6},{"t":1991.92,"v":8.6},{"t":1991.93,"v":19.4},{"t":1991.94,"v":12.0},{"t":1991.95,"v":24.2},{"t":1991.96,"v":30.4},{"t":1991.97,"v":22.0},{"t":1991.98,"v":27.6},{"t":1991.99,"v":25.0},
      {"t":1989.005,"v":1.0},{"t":1989.015,"v":2.4},{"t":1989.025,"v":1.8},{"t":1989.035,"v":2.9},{"t":1989.045,"v":0.6},{"t":1989.055,"v":2.7},{"t":1989.065,"v":1.9},{"t":1989.075,"v":3.0},{"t":1989.085,"v":1.4},{"t":1989.095,"v":2.9},
      {"t":1989.105,"v":3.3},{"t":1989.115,"v":2.0},{"t":1989.125,"v":4.6},{"t":1989.135,"v":2.2},{"t":1989.145,"v":3.9},{"t":1989.155,"v":4.8},{"t":1989.165,"v":3.0},{"t":1989.175,"v":5.8},{"t":1989.185,"v":4.0},{"t":1989.195,"v":6.6},{"t":1989.205,"v":5.0},{"t":1989.215,"v":8.0},{"t":1989.225,"v":6.6},{"t":1989.235,"v":7.6},
      {"t":1989.325,"v":6.6},{"t":1989.335,"v":9.4},{"t":1989.345,"v":7.8},{"t":1989.355,"v":9.0},{"t":1989.365,"v":6.2},{"t":1989.375,"v":10.2},{"t":1989.385,"v":8.0},{"t":1989.395,"v":9.8},{"t":1989.405,"v":8.6},{"t":1989.415,"v":10.6},{"t":1989.425,"v":9.0},{"t":1989.435,"v":11.0},{"t":1989.445,"v":12.0},{"t":1989.455,"v":10.0},{"t":1989.465,"v":12.6},{"t":1989.475,"v":11.4},{"t":1989.485,"v":14.6},{"t":1989.495,"v":11.0},{"t":1989.505,"v":13.6},
      {"t":1989.585,"v":15.0},{"t":1989.595,"v":16.6},{"t":1989.605,"v":12.8},{"t":1989.615,"v":15.6},{"t":1989.625,"v":18.0},{"t":1989.635,"v":16.6},{"t":1989.645,"v":20.0},{"t":1989.655,"v":17.4},{"t":1989.665,"v":20.4},{"t":1989.675,"v":23.6},{"t":1989.685,"v":19.0},{"t":1989.695,"v":22.0},{"t":1989.705,"v":25.0},{"t":1989.715,"v":21.8},{"t":1989.725,"v":23.8},{"t":1989.735,"v":19.6},{"t":1989.745,"v":24.4},{"t":1989.755,"v":17.4},{"t":1989.765,"v":20.2},{"t":1989.775,"v":14.4},{"t":1989.785,"v":17.0},{"t":1989.795,"v":12.0},
      {"t":1989.805,"v":13.8},{"t":1989.815,"v":15.0},{"t":1989.825,"v":11.0},{"t":1989.835,"v":14.0},{"t":1989.845,"v":12.6},{"t":1989.855,"v":14.8},{"t":1989.865,"v":11.2},{"t":1989.875,"v":13.8},{"t":1989.885,"v":12.2},{"t":1989.895,"v":14.2},{"t":1989.905,"v":11.8},{"t":1989.915,"v":15.4},{"t":1989.925,"v":13.2},{"t":1989.935,"v":10.8},{"t":1989.945,"v":14.0},{"t":1989.955,"v":12.0},{"t":1989.965,"v":11.4},{"t":1989.975,"v":15.0},{"t":1989.985,"v":7.8},{"t":1989.995,"v":9.6},
      {"t":1990.005,"v":6.6},{"t":1990.015,"v":4.4},{"t":1990.025,"v":5.0},{"t":1990.035,"v":7.8},{"t":1990.045,"v":4.0},{"t":1990.055,"v":6.6},{"t":1990.065,"v":3.2},{"t":1990.075,"v":5.2},{"t":1990.085,"v":6.4},{"t":1990.095,"v":8.4},
      {"t":1990.105,"v":12.0},{"t":1990.115,"v":15.0},{"t":1990.125,"v":14.2},{"t":1990.135,"v":17.0},{"t":1990.145,"v":16.0},{"t":1990.155,"v":13.2},{"t":1990.165,"v":14.6},{"t":1990.175,"v":17.8},{"t":1990.185,"v":12.6},{"t":1990.195,"v":15.8},{"t":1990.205,"v":14.0},{"t":1990.215,"v":16.0},{"t":1990.225,"v":12.2},{"t":1990.235,"v":11.6},{"t":1990.245,"v":14.6},{"t":1990.255,"v":10.6},{"t":1990.265,"v":13.6},{"t":1990.275,"v":11.0},{"t":1990.285,"v":12.8},{"t":1990.295,"v":9.6},
      {"t":1990.305,"v":11.0},{"t":1990.315,"v":12.0},{"t":1990.325,"v":14.0},{"t":1990.335,"v":10.8},{"t":1990.345,"v":12.4},{"t":1990.355,"v":9.2},{"t":1990.365,"v":13.4},{"t":1990.375,"v":11.8},{"t":1990.385,"v":12.0},{"t":1990.395,"v":8.6},{"t":1990.405,"v":10.4},{"t":1990.415,"v":13.6},{"t":1990.425,"v":11.6},{"t":1990.435,"v":12.8},{"t":1990.445,"v":9.8},{"t":1990.455,"v":13.0},{"t":1990.465,"v":14.2},{"t":1990.475,"v":10.0},{"t":1990.485,"v":13.4},{"t":1990.495,"v":12.6},
      {"t":1990.525,"v":16.6},{"t":1990.535,"v":19.4},{"t":1990.545,"v":17.0},{"t":1990.555,"v":18.2},{"t":1990.565,"v":16.8},{"t":1990.575,"v":18.0},{"t":1990.585,"v":16.4},
      {"t":1990.725,"v":14.2},{"t":1990.745,"v":15.0},{"t":1990.765,"v":13.0},{"t":1990.785,"v":14.0},{"t":1990.805,"v":13.8},
      {"t":1990.895,"v":12.2},{"t":1990.915,"v":10.6},{"t":1990.935,"v":11.4},{"t":1990.955,"v":9.0},
      {"t":1991.045,"v":8.6},{"t":1991.055,"v":10.0},{"t":1991.065,"v":6.0},{"t":1991.075,"v":5.2},{"t":1991.085,"v":8.6},{"t":1991.095,"v":4.4},{"t":1991.105,"v":3.6},{"t":1991.115,"v":5.0},
      {"t":1991.205,"v":3.2},{"t":1991.215,"v":5.6},{"t":1991.225,"v":2.4},{"t":1991.235,"v":7.6},{"t":1991.245,"v":5.8},{"t":1991.255,"v":3.4},{"t":1991.265,"v":5.6},{"t":1991.275,"v":4.8},{"t":1991.285,"v":6.8},{"t":1991.295,"v":2.8},
      {"t":1991.305,"v":5.0},{"t":1991.315,"v":3.0},{"t":1991.325,"v":6.2},{"t":1991.335,"v":2.6},{"t":1991.345,"v":5.6},{"t":1991.355,"v":7.0},{"t":1991.365,"v":4.0},{"t":1991.375,"v":3.0},{"t":1991.385,"v":5.4},{"t":1991.395,"v":2.6},
      {"t":1991.405,"v":6.0},{"t":1991.415,"v":2.8},{"t":1991.425,"v":5.2},{"t":1991.435,"v":1.4},{"t":1991.445,"v":4.4},{"t":1991.455,"v":6.8},{"t":1991.465,"v":3.0},{"t":1991.475,"v":6.0},{"t":1991.485,"v":7.6},{"t":1991.495,"v":5.0},
      {"t":1991.505,"v":9.0},{"t":1991.515,"v":10.6},{"t":1991.525,"v":8.4},{"t":1991.535,"v":11.6},{"t":1991.545,"v":8.0},{"t":1991.555,"v":13.0},{"t":1991.565,"v":16.4},{"t":1991.575,"v":12.0},{"t":1991.585,"v":16.0},{"t":1991.595,"v":20.0},
      {"t":1991.605,"v":18.0},{"t":1991.615,"v":25.0},{"t":1991.625,"v":23.4},{"t":1991.635,"v":21.0},{"t":1991.645,"v":30.2},{"t":1991.655,"v":26.0},{"t":1991.665,"v":24.8},{"t":1991.675,"v":31.6},{"t":1991.685,"v":22.8},{"t":1991.695,"v":26.2},
      {"t":1991.705,"v":29.0},{"t":1991.715,"v":20.0},{"t":1991.725,"v":24.6},{"t":1991.735,"v":22.2},{"t":1991.745,"v":18.6},{"t":1991.755,"v":21.0},{"t":1991.765,"v":19.0},{"t":1991.775,"v":17.6},{"t":1991.785,"v":16.0},{"t":1991.795,"v":20.4},
      {"t":1991.805,"v":14.6},{"t":1991.815,"v":18.8},{"t":1991.825,"v":12.4},{"t":1991.835,"v":17.2},{"t":1991.845,"v":10.6},{"t":1991.855,"v":13.8},{"t":1991.865,"v":9.2},{"t":1991.875,"v":11.6},{"t":1991.885,"v":13.4},{"t":1991.895,"v":8.0},
      {"t":1991.905,"v":11.0},{"t":1991.915,"v":16.8},{"t":1991.925,"v":10.4},{"t":1991.935,"v":15.6},{"t":1991.945,"v":21.0},{"t":1991.955,"v":18.0},{"t":1991.965,"v":26.4},{"t":1991.975,"v":28.8},{"t":1991.985,"v":23.6},{"t":1991.995,"v":29.6}
    ]
  },
  "vconcat": [
    {
      "width": 517,
      "height": 102,
      "layer": [
        {
          "data": {"name": "yearlines"},
          "mark": {"type": "rule", "color": "#888", "strokeWidth": 1},
          "encoding": {
            "x": {"field": "t", "type": "quantitative", "scale": {"domain": [1988.485, 1992.54], "nice": false, "zero": false}, "axis": null}
          }
        },
        {
          "data": {"name": "zeroline"},
          "mark": {"type": "rule", "color": "#999", "strokeWidth": 1.2},
          "encoding": {
            "y": {"field": "v", "type": "quantitative", "scale": {"domain": [-8, 25], "nice": false, "zero": false},
                  "axis": {"values": [-5, 0, 5, 10, 15, 20], "title": "outdoor temperature (°C)", "titleX": -37, "titleY": 42, "titleBaseline": "middle"}}
          }
        },
        {
          "data": {"name": "temp"},
          "mark": {"type": "circle", "color": "#333", "opacity": 1, "size": 6},
          "encoding": {
            "x": {"field": "t", "type": "quantitative", "scale": {"domain": [1988.485, 1992.54], "nice": false, "zero": false}, "axis": null},
            "y": {"field": "v", "type": "quantitative", "scale": {"domain": [-8, 25], "nice": false, "zero": false},
                  "axis": {"values": [-5, 0, 5, 10, 15, 20], "title": "outdoor temperature (°C)", "titleX": -37, "titleY": 42, "titleBaseline": "middle"}}
          }
        }
      ]
    },
    {
      "width": 517,
      "height": 101,
      "layer": [
        {
          "data": {"name": "yearlines"},
          "mark": {"type": "rule", "color": "#888", "strokeWidth": 1},
          "encoding": {
            "x": {"field": "t", "type": "quantitative", "scale": {"domain": [1988.485, 1992.54], "nice": false, "zero": false}, "axis": null}
          }
        },
        {
          "data": {"name": "esrbase"},
          "mark": {"type": "rule", "color": "#888", "strokeWidth": 1.2},
          "encoding": {
            "x": {"field": "t", "type": "quantitative", "scale": {"domain": [1988.485, 1992.54], "nice": false, "zero": false}, "axis": null},
            "x2": {"field": "t2"},
            "y": {"field": "v", "type": "quantitative", "scale": {"domain": [-0.27, 27.4], "nice": false, "zero": false},
                  "axis": {"values": [0, 10, 20], "title": "ESR (mm/h)", "titleX": -24, "titleY": 44, "titleBaseline": "middle", "titleFontSize": 11.5}}
          }
        },
        {
          "data": {"name": "esr"},
          "mark": {"type": "circle", "color": "#333", "opacity": 1, "size": 12},
          "encoding": {
            "x": {"field": "t", "type": "quantitative", "scale": {"domain": [1988.485, 1992.54], "nice": false, "zero": false}, "axis": null},
            "y": {"field": "v", "type": "quantitative", "scale": {"domain": [-0.27, 27.4], "nice": false, "zero": false},
                  "axis": {"values": [0, 10, 20], "title": "ESR (mm/h)", "titleX": -24, "titleY": 44, "titleBaseline": "middle", "titleFontSize": 11.5}}
          }
        }
      ]
    },
    {
      "width": 517,
      "height": 96,
      "layer": [
        {
          "data": {"name": "painlines"},
          "mark": {"type": "rule", "color": "#888", "strokeWidth": 1},
          "encoding": {
            "x": {"field": "t", "type": "quantitative", "scale": {"domain": [1988.485, 1992.54], "nice": false, "zero": false},
                  "axis": {"values": [1989.5, 1990.5, 1991.5], "labelExpr": "floor(datum.value)", "ticks": false, "domain": false, "title": null, "labelPadding": 5, "labelFontSize": 11.5}},
            "y": {"field": "v", "type": "quantitative", "scale": {"domain": [-0.46, 43.8], "nice": false, "zero": false},
                  "axis": {"values": [0, 10, 20, 30, 40], "title": "joint pain score", "titleX": -26.7, "titleBaseline": "middle"}},
            "y2": {"field": "v2"}
          }
        },
        {
          "data": {"name": "painbase"},
          "mark": {"type": "rule", "color": "#888", "strokeWidth": 1.2},
          "encoding": {
            "x": {"field": "t", "type": "quantitative", "scale": {"domain": [1988.485, 1992.54], "nice": false, "zero": false},
                  "axis": {"values": [1989.5, 1990.5, 1991.5], "labelExpr": "floor(datum.value)", "ticks": false, "domain": false, "title": null, "labelPadding": 5, "labelFontSize": 11.5}},
            "x2": {"field": "t2"},
            "y": {"field": "v", "type": "quantitative", "scale": {"domain": [-0.46, 43.8], "nice": false, "zero": false},
                  "axis": {"values": [0, 10, 20, 30, 40], "title": "joint pain score", "titleX": -26.7, "titleBaseline": "middle"}}
          }
        },
        {
          "data": {"name": "pain"},
          "mark": {"type": "circle", "color": "#333", "opacity": 1, "size": 6},
          "encoding": {
            "x": {"field": "t", "type": "quantitative", "scale": {"domain": [1988.485, 1992.54], "nice": false, "zero": false},
                  "axis": {"values": [1989.5, 1990.5, 1991.5], "labelExpr": "floor(datum.value)", "ticks": false, "domain": false, "title": null, "labelPadding": 5, "labelFontSize": 11.5}},
            "y": {"field": "v", "type": "quantitative", "scale": {"domain": [-0.46, 43.8], "nice": false, "zero": false},
                  "axis": {"values": [0, 10, 20, 30, 40], "title": "joint pain score", "titleX": -26.7, "titleBaseline": "middle"}}
          }
        }
      ]
    }
  ]
}
